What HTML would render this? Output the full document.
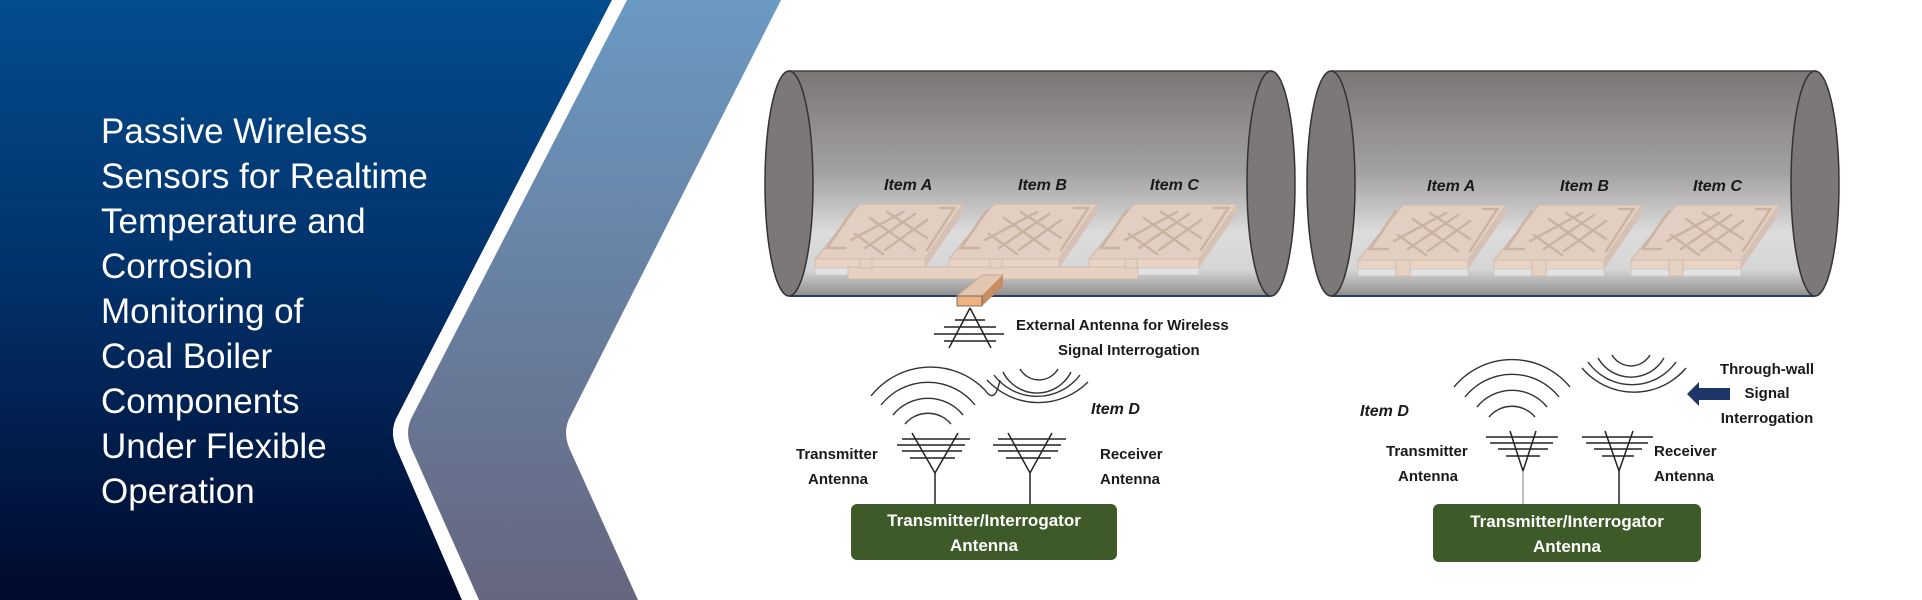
<!DOCTYPE html>
<html><head><meta charset="utf-8"><style>
html,body{margin:0;padding:0;background:#fff}
svg{display:block}
.t{font-family:"Liberation Sans",sans-serif;fill:#fff;font-size:35px}
.b{font-family:"Liberation Sans",sans-serif;font-weight:bold;fill:#1a1a1a;font-size:15px}
.i{font-family:"Liberation Sans",sans-serif;font-weight:bold;font-style:italic;fill:#1a1a1a;font-size:16px}
.w{font-family:"Liberation Sans",sans-serif;font-weight:bold;fill:#fff;font-size:17px}
</style></head><body>
<svg width="1922" height="600" viewBox="0 0 1922 600" xmlns="http://www.w3.org/2000/svg">
<defs>
<linearGradient id="dk" x1="0" y1="0" x2="0" y2="1"><stop offset="0" stop-color="#024d8e"/><stop offset="0.5" stop-color="#022e66"/><stop offset="1" stop-color="#000a2c"/></linearGradient>
<linearGradient id="lt" x1="0" y1="0" x2="0" y2="1"><stop offset="0" stop-color="#6a99c2"/><stop offset="1" stop-color="#66667f"/></linearGradient>
<linearGradient id="cy" x1="0" y1="0" x2="0" y2="1"><stop offset="0" stop-color="#7b7675"/><stop offset="0.45" stop-color="#a3a1a1"/><stop offset="0.72" stop-color="#dcdcdc"/><stop offset="0.88" stop-color="#d6d6d6"/><stop offset="1" stop-color="#8d8d8d"/></linearGradient>
<g id="plate">
<polygon points="45,0 148,0 110,55 0,55" fill="#e3cfc2" stroke="#c9b8ac" stroke-width="1"/>
<rect x="0" y="55" width="110" height="9" fill="#e8d3c4" stroke="#cdbcb0" stroke-width="0.8"/>
<rect x="0" y="64" width="110" height="7" fill="#e2e2e2" stroke="#c8c8c8" stroke-width="0.8"/>
<polygon points="110,55 148,0 148,9 110,64" fill="#d6c2b4"/>
<g stroke="#cbb3a2" stroke-width="2.5" fill="none" stroke-linecap="round">
<path d="M38,6 L12,44 L30,44"/><path d="M140,4 L125,4 M138,6 L112,46"/>
<path d="M55,14 L100,46 M72,8 L112,34 M40,30 L68,50"/>
<path d="M100,10 L50,44 M112,16 L70,46 M88,8 L36,36"/>
</g></g>
</defs>
<path d="M0,0 L612,0 L398,415 Q388,432 398,452 L462,600 L0,600 Z" fill="url(#dk)"/>
<path d="M612,0 L627,0 L413,415 Q403,432 413,452 L479,600 L462,600 L398,452 Q388,432 398,415 Z" fill="#fff"/>
<path d="M627,0 L781,0 L571,415 Q561,432 571,452 L638,600 L479,600 L413,452 Q403,432 413,415 Z" fill="url(#lt)"/>
<g class="t">
<text x="101" y="143">Passive Wireless</text>
<text x="101" y="188">Sensors for Realtime</text>
<text x="101" y="233">Temperature and</text>
<text x="101" y="278">Corrosion</text>
<text x="101" y="323">Monitoring of</text>
<text x="101" y="368">Coal Boiler</text>
<text x="101" y="413">Components</text>
<text x="101" y="458">Under Flexible</text>
<text x="101" y="503">Operation</text>
</g>
<rect x="789" y="71" width="482" height="225" fill="url(#cy)"/>
<line x1="789" y1="71" x2="1271" y2="71" stroke="#444" stroke-width="1.5"/>
<line x1="789" y1="296" x2="1271" y2="296" stroke="#2a3f66" stroke-width="2"/>
<ellipse cx="789" cy="183.5" rx="24" ry="112.5" fill="#7d7878" stroke="#333" stroke-width="1.5"/>
<ellipse cx="1271" cy="183.5" rx="24" ry="112.5" fill="#7d7878" stroke="#333" stroke-width="1.5"/>
<text class="i" x="884" y="190">Item A</text>
<text class="i" x="1018" y="190">Item B</text>
<text class="i" x="1150" y="190">Item C</text>
<use href="#plate" x="815" y="204"/>
<use href="#plate" x="949" y="204"/>
<use href="#plate" x="1089" y="204"/>
<rect x="848" y="267" width="290" height="12" fill="#e6d1c2" stroke="#cdbcb0"/>
<rect x="860" y="259" width="12" height="9" fill="#e6d1c2" stroke="#cdbcb0"/>
<rect x="990" y="259" width="12" height="9" fill="#e6d1c2" stroke="#cdbcb0"/>
<rect x="1125" y="259" width="12" height="9" fill="#e6d1c2" stroke="#cdbcb0"/>
<polygon points="982,275 1003,275 982,296 957,296" fill="#e3c6b0" stroke="#c9a88f"/>
<polygon points="1003,275 1003,286 982,306 982,296" fill="#c98c5e"/>
<rect x="957" y="296" width="25" height="10" fill="#f0b07f" stroke="#555" stroke-width="0.8"/>
<g stroke="#222" stroke-width="1.5" fill="none">
<path d="M970,308 L949,348 M970,308 L991,348"/>
<path d="M955,320 L985,320 M944,327 L996,327 M934,334 L1004,334 M944,341 L996,341"/>
</g>
<text class="b" x="1016" y="330">External Antenna for Wireless</text>
<text class="b" x="1058" y="355">Signal Interrogation</text>
<g stroke="#333" stroke-width="1.4" fill="none">
<path d="M905,424 A30 30 0 0 1 951,424"/>
<path d="M893,415 A45 45 0 0 1 963,415"/>
<path d="M881,405 A60 60 0 0 1 975,405"/>
<path d="M871,396 A76 76 0 0 1 985,390 Q995,405 1000,380"/>
<path d="M1020,369 A22 22 0 0 0 1058,369"/>
<path d="M1003,372 A38 38 0 0 0 1071,372"/>
<path d="M994,375 A54 54 0 0 0 1080,375"/>
<path d="M987,380 A70 70 0 0 0 1088,382"/>
</g>
<text class="i" x="1091" y="414">Item D</text>
<g stroke="#222" stroke-width="1.5" fill="none">
<path d="M902,439 L970,439 M897,445 L965,445 M902,451 L962,451 M910,458 L955,458"/>
<path d="M912,433 L935,473 L958,433 M935,473 L935,504"/>
<path d="M998,439 L1066,439 M993,445 L1061,445 M998,451 L1058,451 M1006,458 L1051,458"/>
<path d="M1008,433 L1030,473 L1052,433 M1030,473 L1030,504"/>
</g>
<text class="b" x="796" y="459">Transmitter</text>
<text class="b" x="808" y="484">Antenna</text>
<text class="b" x="1100" y="459">Receiver</text>
<text class="b" x="1100" y="484">Antenna</text>
<rect x="851" y="504" width="266" height="56" rx="6" fill="#3d5a28"/>
<text class="w" x="984" y="526" text-anchor="middle">Transmitter/Interrogator</text>
<text class="w" x="984" y="551" text-anchor="middle">Antenna</text>
<rect x="1331" y="71" width="484" height="225" fill="url(#cy)"/>
<line x1="1331" y1="71" x2="1815" y2="71" stroke="#444" stroke-width="1.5"/>
<line x1="1331" y1="296" x2="1815" y2="296" stroke="#2a3f66" stroke-width="2"/>
<ellipse cx="1331" cy="183.5" rx="24" ry="112.5" fill="#7d7878" stroke="#333" stroke-width="1.5"/>
<ellipse cx="1815" cy="183.5" rx="24" ry="112.5" fill="#7d7878" stroke="#333" stroke-width="1.5"/>
<text class="i" x="1427" y="191">Item A</text>
<text class="i" x="1560" y="191">Item B</text>
<text class="i" x="1693" y="191">Item C</text>
<use href="#plate" x="1358" y="205"/>
<use href="#plate" x="1494" y="205"/>
<use href="#plate" x="1631" y="205"/>
<rect x="1396" y="260" width="14" height="16" fill="#e6d1c2" stroke="#cdbcb0"/>
<rect x="1532" y="260" width="14" height="16" fill="#e6d1c2" stroke="#cdbcb0"/>
<rect x="1669" y="260" width="14" height="16" fill="#e6d1c2" stroke="#cdbcb0"/>
<g stroke="#333" stroke-width="1.4" fill="none">
<path d="M1489,417 A30 30 0 0 1 1535,417"/>
<path d="M1477,407 A45 45 0 0 1 1547,407"/>
<path d="M1465,397 A60 60 0 0 1 1559,397"/>
<path d="M1454,387 A75 75 0 0 1 1570,387"/>
<path d="M1612,355 A22 22 0 0 0 1650,355"/>
<path d="M1598,358 A38 38 0 0 0 1664,358"/>
<path d="M1588,362 A54 54 0 0 0 1676,362"/>
<path d="M1582,368 A68 68 0 0 0 1686,368"/>
</g>
<polygon points="1687,394 1699,382 1699,388 1730,388 1730,400 1699,400 1699,406" fill="#1d3567"/>
<text class="b" x="1767" y="374" text-anchor="middle">Through-wall</text>
<text class="b" x="1767" y="398" text-anchor="middle">Signal</text>
<text class="b" x="1767" y="423" text-anchor="middle">Interrogation</text>
<text class="i" x="1360" y="416">Item D</text>
<g stroke="#222" stroke-width="1.5" fill="none">
<path d="M1486,437 L1558,437 M1490,443 L1553,443 M1498,449 L1548,449 M1506,456 L1540,456"/>
<path d="M1510,431 L1523,471 L1536,431"/>
<path d="M1582,437 L1653,437 M1586,443 L1648,443 M1594,449 L1642,449 M1602,456 L1634,456"/>
<path d="M1605,431 L1619,471 L1633,431 M1619,471 L1619,504"/>
</g>
<line x1="1523" y1="471" x2="1523" y2="504" stroke="#aaa" stroke-width="1.5"/>
<text class="b" x="1386" y="456">Transmitter</text>
<text class="b" x="1398" y="481">Antenna</text>
<text class="b" x="1654" y="456">Receiver</text>
<text class="b" x="1654" y="481">Antenna</text>
<rect x="1433" y="504" width="268" height="58" rx="6" fill="#3d5a28"/>
<text class="w" x="1567" y="527" text-anchor="middle">Transmitter/Interrogator</text>
<text class="w" x="1567" y="552" text-anchor="middle">Antenna</text>
</svg>
</body></html>
